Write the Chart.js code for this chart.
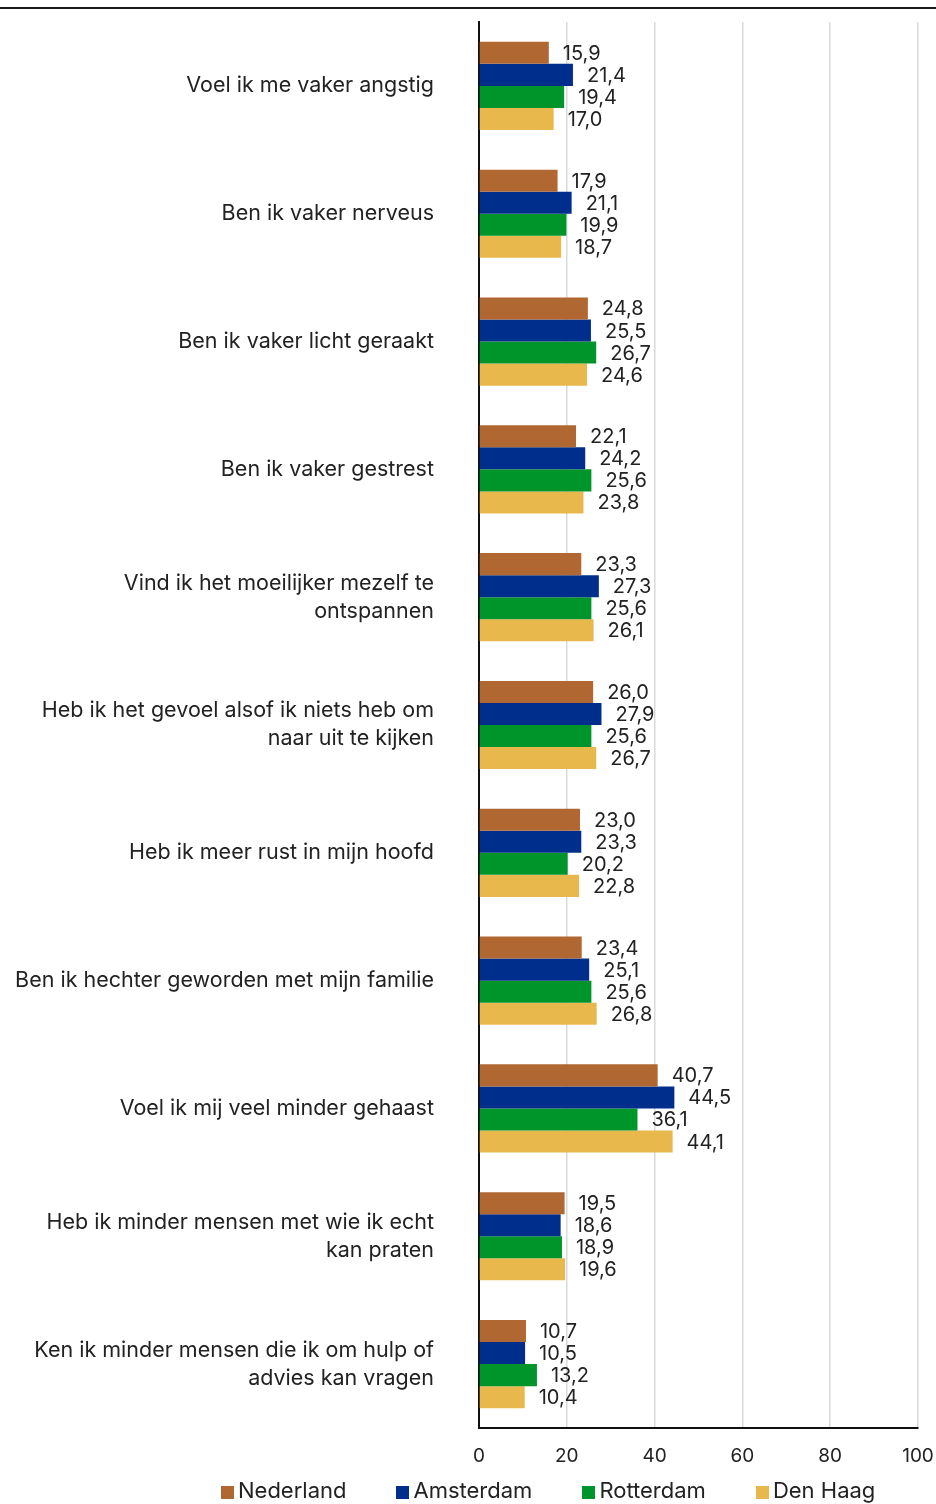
<!DOCTYPE html>
<html>
<head>
<meta charset="utf-8">
<script src="https://cdn.jsdelivr.net/npm/chart.js@4"></script>
<style>
  html, body { margin: 0; padding: 0; background: #fff; }
  #wrap { position: relative; width: 936px; height: 1504px; overflow: hidden; }
  #topline { position: absolute; left: 0; top: 7px; width: 936px; height: 2px; background: #1a1a1a; }
  #legend { position: absolute; left: 221px; top: 1477px; display: flex; gap: 50px;
            font-family: Inter, "DejaVu Sans", sans-serif; font-size: 22px; color: #222; line-height: 26px; }
  #legend .item { display: flex; align-items: center; }
  #legend .box { width: 13px; height: 13px; margin-right: 4px; margin-top: 4px; }
</style>
</head>
<body>
<div id="wrap">
  <canvas id="barChart" width="936" height="1504"></canvas>
  <div id="topline"></div>
  <div id="legend"></div>
</div>
<script>
var categories = [
  'Voel ik me vaker angstig',
  'Ben ik vaker nerveus',
  'Ben ik vaker licht geraakt',
  'Ben ik vaker gestrest',
  ['Vind ik het moeilijker mezelf te', 'ontspannen'],
  ['Heb ik het gevoel alsof ik niets heb om', 'naar uit te kijken'],
  'Heb ik meer rust in mijn hoofd',
  'Ben ik hechter geworden met mijn familie',
  'Voel ik mij veel minder gehaast',
  ['Heb ik minder mensen met wie ik echt', 'kan praten'],
  ['Ken ik minder mensen die ik om hulp of', 'advies kan vragen']
];

var seriesNames = ['Nederland', 'Amsterdam', 'Rotterdam', 'Den Haag'];
var seriesColors = ['#b16732', '#002e8c', '#00952a', '#e8b84c'];

var nederland = [15.9, 17.9, 24.8, 22.1, 23.3, 26.0, 23.0, 23.4, 40.7, 19.5, 10.7];
var amsterdam = [21.4, 21.1, 25.5, 24.2, 27.3, 27.9, 23.3, 25.1, 44.5, 18.6, 10.5];
var rotterdam = [19.4, 19.9, 26.7, 25.6, 25.6, 25.6, 20.2, 25.6, 36.1, 18.9, 13.2];
var denHaag   = [17.0, 18.7, 24.6, 23.8, 26.1, 26.7, 22.8, 26.8, 44.1, 19.6, 10.4];

var xTicks = [0, 20, 40, 60, 80, 100];

var seriesValues = [nederland, amsterdam, rotterdam, denHaag];
var fontFamily = 'Inter, "DejaVu Sans", sans-serif';

// value labels next to the bars
var valueLabels = {
  id: 'valueLabels',
  afterDatasetsDraw: function(chart) {
    var ctx = chart.ctx;
    ctx.save();
    ctx.font = '20px ' + fontFamily;
    ctx.fillStyle = '#222';
    ctx.textAlign = 'left';
    ctx.textBaseline = 'middle';
    chart.data.datasets.forEach(function(ds, i) {
      chart.getDatasetMeta(i).data.forEach(function(bar, j) {
        var txt = ds.data[j].toFixed(1).replace('.', ',');
        ctx.fillText(txt, bar.x + 14, bar.y + 1);
      });
    });
    ctx.restore();
  }
};

var datasets = seriesNames.map(function(name, i) {
  return {
    label: name,
    data: seriesValues[i],
    backgroundColor: seriesColors[i],
    borderWidth: 0,
    categoryPercentage: 0.69,
    barPercentage: 1.0
  };
});

new Chart(document.getElementById('barChart'), {
  type: 'bar',
  data: { labels: categories, datasets: datasets },
  options: {
    indexAxis: 'y',
    responsive: false,
    animation: false,
    layout: { padding: { top: 22, right: 18, left: 0, bottom: 0 } },
    plugins: {
      legend: { display: false },
      tooltip: { enabled: false }
    },
    scales: {
      x: {
        min: 0,
        max: 100,
        afterBuildTicks: function(scale) {
          scale.ticks = xTicks.map(function(v) { return { value: v }; });
        },
        afterFit: function(scale) {
          scale.height = 76;
          scale.paddingLeft = 0;
          scale.paddingRight = 0;
        },
        grid: { color: '#d9d9d9', lineWidth: 1.5, drawTicks: false },
        border: { color: '#111', width: 2 },
        ticks: { color: '#222', padding: 17, font: { family: fontFamily, size: 19 } }
      },
      y: {
        afterFit: function(scale) {
          scale.width = 479;
          scale.paddingTop = 0;
          scale.paddingBottom = 0;
        },
        grid: { display: false, drawTicks: false },
        border: { color: '#111', width: 2 },
        ticks: {
          color: '#222',
          padding: 45,
          autoSkip: false,
          font: { family: fontFamily, size: 21.5, lineHeight: 1.3 }
        }
      }
    }
  },
  plugins: [valueLabels]
});

var legend = document.getElementById('legend');
seriesNames.forEach(function(name, i) {
  var item = document.createElement('div');
  item.className = 'item';
  item.innerHTML = '<span class="box" style="background:' + seriesColors[i] + '"></span>' + name;
  legend.appendChild(item);
});
</script>
</body>
</html>
